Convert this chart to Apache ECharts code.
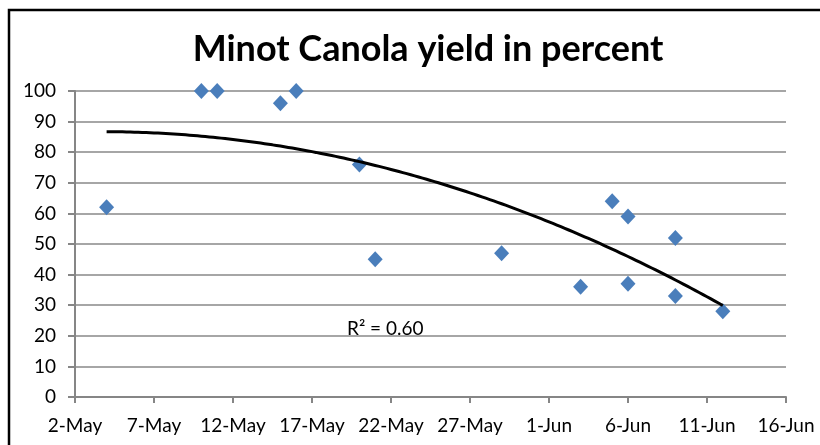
<!DOCTYPE html>
<html>
<head>
<meta charset="utf-8">
<script src="https://cdn.jsdelivr.net/npm/echarts@6/dist/echarts.min.js"></script>
<style>
html,body{margin:0;padding:0;background:#fff;}
#chart{width:820px;height:445px;}
</style>
</head>
<body>
<div id="chart"></div>
<script>
// ---- data ----
var dates = ['4-May','10-May','11-May','15-May','16-May','20-May','21-May','29-May','3-Jun','5-Jun','6-Jun','6-Jun','9-Jun','9-Jun','12-Jun'];
var yields = [62, 100, 100, 96, 100, 76, 45, 47, 36, 64, 59, 37, 52, 33, 28];
var xTickLabels = ['2-May','7-May','12-May','17-May','22-May','27-May','1-Jun','6-Jun','11-Jun','16-Jun'];
var yTickLabels = [0,10,20,30,40,50,60,70,80,90,100];
var rSquaredLabel = 'R² = 0.60';

// convert date labels to day offsets from 2-May
var monthStart = {May: 0, Jun: 31};
function dayOffset(s){ var p = s.split('-'); return monthStart[p[1]] + parseInt(p[0],10) - 2; }
var xs = dates.map(dayOffset);
var points = xs.map(function(x,i){ return [x, yields[i]]; });

// order-2 polynomial least-squares trendline (as in the source chart)
function polyFit2(xs, ys){
  var n = xs.length, S = [0,0,0,0,0], T = [0,0,0];
  for (var i=0;i<n;i++){
    var x=xs[i], y=ys[i], p=1;
    for (var k=0;k<5;k++){ S[k]+=p; if(k<3) T[k]+=p*y; p*=x; }
  }
  var A = [[S[0],S[1],S[2],T[0]],[S[1],S[2],S[3],T[1]],[S[2],S[3],S[4],T[2]]];
  for (var c=0;c<3;c++){
    for (var r=c+1;r<3;r++){
      var f=A[r][c]/A[c][c];
      for (var j=c;j<4;j++) A[r][j]-=f*A[c][j];
    }
  }
  var b=[0,0,0];
  for (var r2=2;r2>=0;r2--){
    var s=A[r2][3];
    for (var j2=r2+1;j2<3;j2++) s-=A[r2][j2]*b[j2];
    b[r2]=s/A[r2][r2];
  }
  return b;
}
var coef = polyFit2(xs, yields);
var xmin = Math.min.apply(null, xs), xmax = Math.max.apply(null, xs);
var trend = [];
for (var t = xmin; t <= xmax + 1e-9; t += 0.25){
  trend.push([t, coef[0] + coef[1]*t + coef[2]*t*t]);
}

var FONT = 'Lato';
var chart = echarts.init(document.getElementById('chart'), null, {renderer:'canvas'});
chart.setOption({
  animation: false,
  backgroundColor: '#ffffff',
  title: {
    text: 'Minot Canola yield in percent',
    left: 423, top: 26, textAlign: 'center',
    textStyle: {fontFamily: FONT, fontWeight: 'bold', fontSize: 36, color: '#000'}
  },
  grid: {left: 75, right: 34, top: 91, bottom: 48, containLabel: false},
  xAxis: {
    type: 'value', min: 0, max: 45, interval: 5,
    axisLine: {show: true, lineStyle: {color: '#868686', width: 2}},
    axisTick: {show: true, length: 6, lineStyle: {color: '#868686', width: 2}},
    axisLabel: {
      fontFamily: FONT, fontSize: 19, color: '#000', margin: 19,
      formatter: function(v){ return xTickLabels[Math.round(v/5)] || ''; }
    },
    splitLine: {show: false}
  },
  yAxis: {
    type: 'value', min: 0, max: 100, interval: 10,
    axisLine: {show: true, lineStyle: {color: '#868686', width: 2}},
    axisTick: {show: true, length: 7, lineStyle: {color: '#868686', width: 2}},
    axisLabel: {
      fontFamily: FONT, fontSize: 19, color: '#000', margin: 19,
      formatter: function(v){ return String(yTickLabels[Math.round(v/10)]); }
    },
    splitLine: {show: true, lineStyle: {color: '#a6a6a6', width: 2}}
  },
  series: [
    {
      type: 'scatter', name: 'yield', data: points,
      symbol: 'diamond', symbolSize: [15, 16],
      itemStyle: {color: '#4a7ebb', opacity: 1}, z: 3
    },
    {
      type: 'line', name: 'trend', data: trend, showSymbol: false, symbol: 'none',
      lineStyle: {color: '#000', width: 3}, z: 4, silent: true
    }
  ],
  graphic: [
    {type: 'polyline', shape: {points: [[9,445],[9,10],[820,10]]}, style: {stroke: '#000', lineWidth: 2.5, fill: null}, z: 10},
    {type: 'text', x: 347, y: 329, style: {text: rSquaredLabel, fontFamily: FONT, fontSize: 19, fill: '#000', textVerticalAlign: 'middle'}, z: 10}
  ]
});
</script>
</body>
</html>
